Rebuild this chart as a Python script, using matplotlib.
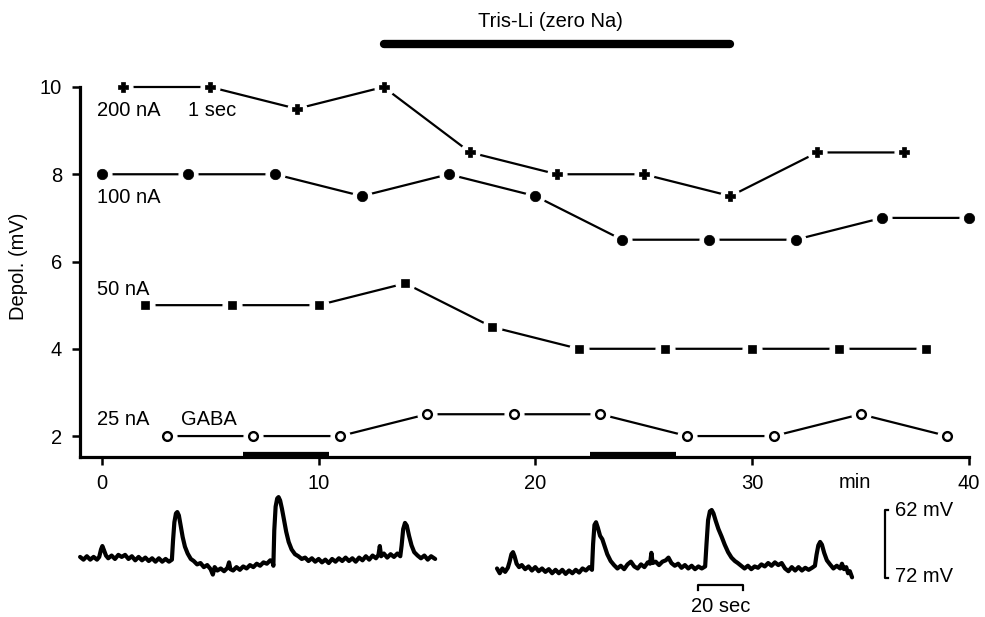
import matplotlib
matplotlib.use('Agg')
import matplotlib.pyplot as plt
import matplotlib.transforms as mtransforms

plt.rcParams['font.family'] = ['Liberation Sans', 'DejaVu Sans']

# depolarisation (mV) vs time (min) for four current strengths
t_200 = [1, 5, 9, 13, 17, 21, 25, 29, 33, 37]
d_200 = [10, 10, 9.5, 10, 8.5, 8, 8, 7.5, 8.5, 8.5]
t_100 = [0, 4, 8, 12, 16, 20, 24, 28, 32, 36, 40]
d_100 = [8, 8, 8, 7.5, 8, 7.5, 6.5, 6.5, 6.5, 7, 7]
t_50 = [2, 6, 10, 14, 18, 22, 26, 30, 34, 38]
d_50 = [5, 5, 5, 5.5, 4.5, 4, 4, 4, 4, 4]
t_25 = [3, 7, 11, 15, 19, 23, 27, 31, 35, 39]
d_25 = [2, 2, 2, 2.5, 2.5, 2.5, 2, 2, 2.5, 2]

tris_li = (13, 29)                          # min
gaba_periods = [(6.5, 10.5), (22.5, 26.5)]  # min

# membrane potential recordings (time s, potential mV)
trace1 = [
    (0, -68.9), (1.5, -69.3), (3, -68.8), (4.5, -69.3), (6, -68.9), (7.5, -69.3),
    (8.5, -68.9), (9.3, -67.8), (9.9, -67.3), (10.6, -67.9), (11.5, -68.7), (12.5, -69.1),
    (14, -68.7), (15.5, -69.2), (17, -68.6), (18.5, -68.9), (20, -68.6), (21.5, -69.2),
    (23, -68.8), (24.5, -69.4), (26, -68.9), (27.5, -69.4), (29, -69.0), (30.5, -69.5),
    (32, -69.1), (33.5, -69.6), (35, -69.1), (36.5, -69.6), (38, -69.2), (39.5, -69.6),
    (40.8, -69.3), (41.3, -66.5), (41.9, -63.8), (42.6, -62.5), (43.2, -62.3), (43.9, -62.8),
    (44.7, -64.3), (45.6, -66.0), (46.6, -67.4), (47.8, -68.4), (49.2, -69.2), (50.5, -69.5),
    (52, -70.0), (53.5, -69.8), (55, -70.4), (56.5, -70.1), (58, -70.7), (59, -71.5),
    (59.8, -70.4), (61, -70.9), (62.5, -70.6), (64, -71.0), (65.5, -70.5), (66.2, -69.7),
    (66.8, -70.7), (68, -70.9), (69.5, -70.4), (71, -70.8), (72.5, -70.3), (74, -70.6),
    (75.5, -70.1), (77, -70.4), (78.5, -69.9), (80, -70.2), (81.5, -69.7), (83, -69.9),
    (84.5, -69.4), (85.6, -69.7), (85.9, -70.2), (86.3, -65.0), (86.9, -61.5), (87.6, -60.3),
    (88.2, -60.1), (88.9, -60.6), (89.7, -61.8), (90.6, -63.4), (91.6, -65.2), (92.7, -66.7),
    (94, -67.8), (95.5, -68.5), (97, -68.8), (98.5, -69.2), (100, -69.0), (101.5, -69.5),
    (103, -69.1), (104.5, -69.6), (106, -69.2), (107.5, -69.7), (109, -69.3), (110.5, -69.8),
    (112, -69.2), (113.5, -69.6), (115, -69.1), (116.5, -69.5), (118, -69.0), (119.5, -69.5),
    (121, -69.1), (122.5, -69.6), (124, -69.0), (125.5, -69.4), (127, -68.8), (128.5, -69.3),
    (130, -68.7), (131.5, -69.1), (132.6, -68.6), (133.2, -67.3), (133.8, -68.8), (135, -68.4),
    (136.5, -69.0), (138, -68.5), (139.5, -68.9), (141, -68.4), (142.3, -68.8), (142.9, -67.2),
    (143.6, -64.8), (144.4, -63.9), (145.2, -64.3), (146.2, -65.8), (147.3, -67.2),
    (148.5, -68.2), (150, -68.7), (151.5, -69.1), (153, -68.7), (154.5, -69.3), (156, -68.8),
    (157.8, -69.2),
]
trace2 = [
    (0, -70.6), (1.2, -71.3), (2.4, -70.6), (3.6, -71.1), (4.8, -70.5), (5.6, -69.6),
    (6.4, -68.5), (7.1, -68.2), (7.8, -68.8), (8.7, -69.9), (9.8, -70.4), (11, -70.1),
    (12.5, -70.7), (14, -70.3), (15.5, -70.9), (17, -70.4), (18.5, -71.0), (20, -70.6),
    (21.5, -71.1), (23, -70.7), (24.5, -71.3), (26, -70.8), (27.5, -71.3), (29, -70.8),
    (30.5, -71.4), (32, -70.9), (33.5, -71.3), (35, -70.8), (36.5, -71.2), (38, -70.6),
    (39.5, -70.9), (41, -70.4), (42.2, -70.8), (42.7, -67.0), (43.3, -64.2), (44.0, -63.8),
    (44.8, -64.6), (45.8, -65.8), (46.8, -66.3), (47.8, -67.3), (49, -68.5), (50.5, -69.5),
    (52, -70.1), (53.5, -70.6), (55, -70.2), (56.5, -70.7), (58, -70.0), (59.5, -69.6),
    (61, -70.3), (62.5, -70.6), (64, -70.0), (65.5, -70.4), (67, -69.7), (68, -69.9),
    (68.6, -68.3), (69.2, -69.8), (70.5, -69.6), (72, -70.1), (73.5, -69.6), (75, -69.4),
    (76.2, -69.0), (77.5, -69.8), (79, -70.2), (80.5, -69.9), (82, -70.5), (83.5, -70.1),
    (85, -70.6), (86.5, -70.2), (88, -70.7), (89.5, -70.3), (91, -70.6), (92.5, -70.3),
    (93.1, -67.0), (93.8, -63.5), (94.6, -62.2), (95.4, -62.0), (96.2, -62.5), (97.2, -63.6),
    (98.4, -64.8), (99.8, -65.9), (101.2, -67.1), (102.7, -68.2), (104.2, -69.0),
    (105.7, -69.5), (107, -69.8), (108.5, -70.2), (110, -70.6), (111.5, -70.2), (113, -70.7),
    (114.5, -70.3), (116, -70.5), (117.5, -70.0), (119, -70.3), (120.5, -69.8), (122, -70.2),
    (123.5, -69.7), (125, -70.1), (126.5, -69.8), (128, -70.6), (129.5, -71.0), (131, -70.4),
    (132.5, -70.9), (134, -70.4), (135.5, -70.9), (137, -70.5), (138.5, -70.8), (140, -70.5),
    (141.3, -70.2), (142, -68.6), (142.8, -67.2), (143.6, -66.7), (144.4, -67.1),
    (145.4, -68.3), (146.6, -69.4), (148, -70.0), (149.5, -70.6), (151, -70.2), (152.5, -70.6),
    (153.3, -69.9), (154.2, -70.7), (155.2, -70.4), (156, -71.3), (156.8, -71.0), (157.8, -71.9),
]

fs = 14.5
fig = plt.figure(figsize=(9.85, 6.17), dpi=100)
ax = fig.add_axes([80 / 985, 160 / 617, 889 / 985, 370 / 617])

series = [(t_200, d_200, 'P', 7, 'k'), (t_100, d_100, 'o', 7.5, 'k'),
          (t_50, d_50, 's', 6.3, 'k'), (t_25, d_25, 'o', 6.3, 'white')]
for t, d, m, ms, fc in series:
    ax.plot(t, d, '-', color='k', lw=1.6, zorder=1, clip_on=False)
    ax.plot(t, d, 'o', ms=13.5, color='white', mec='white', zorder=2, clip_on=False)
    ax.plot(t, d, m, ms=ms, mfc=fc, mec='k', mew=1.7 if fc == 'white' else 0.5,
            zorder=3, clip_on=False)

ax.set_xlim(-1, 40)
ax.set_ylim(1.52, 10.0)
ax.set_xticks([0, 10, 20, 30, 40])
ax.set_yticks([2, 4, 6, 8, 10])
ax.tick_params(axis='both', direction='out', length=6, width=1.8, labelsize=fs)
ax.tick_params(axis='x', pad=6)
ax.tick_params(axis='y', pad=7)
for s in ['top', 'right']:
    ax.spines[s].set_visible(False)
for s in ['left', 'bottom']:
    ax.spines[s].set_linewidth(2.3)

ax.set_ylabel('Depol. (mV)', fontsize=fs)
ax.yaxis.set_label_coords(-0.058, 0.515)

trans = mtransforms.blended_transform_factory(ax.transData, ax.transAxes)
ax.text(34.75, -0.07, 'min', transform=trans, ha='center', va='center', fontsize=fs)
for a, b in gaba_periods:
    ax.plot([a, b], [0.006, 0.006], color='k', lw=4.5, solid_capstyle='butt',
            transform=trans, clip_on=False)

ax.plot(tris_li, [10.99, 10.99], color='k', lw=6, solid_capstyle='round', clip_on=False)
ax.text(20.7, 11.5, 'Tris-Li (zero Na)', ha='center', va='center', fontsize=fs)

ax.text(-0.23, 9.47, '200 nA', ha='left', va='center', fontsize=fs)
ax.text(4.0, 9.47, '1 sec', ha='left', va='center', fontsize=fs)
ax.text(-0.23, 7.47, '100 nA', ha='left', va='center', fontsize=fs)
ax.text(-0.23, 5.37, '50 nA', ha='left', va='center', fontsize=fs)
ax.text(-0.23, 2.39, '25 nA', ha='left', va='center', fontsize=fs)
ax.text(3.64, 2.39, 'GABA', ha='left', va='center', fontsize=fs)

# recordings underneath, 2.25 px per s and 6.8 px per mV
axr = fig.add_axes([0, 0, 1, 147 / 617])
axr.set_xlim(0, 985 / 2.25)
axr.set_ylim(-62 - 107 / 6.8, -62 + 40 / 6.8)
axr.axis('off')
for start, tr in [(35.6, trace1), (220.9, trace2)]:
    axr.plot([start + p[0] for p in tr], [p[1] for p in tr], color='k', lw=3,
             solid_joinstyle='round', solid_capstyle='round')

# calibration bars
axr.plot([394.6, 393.3, 393.3, 394.6], [-62, -62, -72, -72], color='k', lw=1.6)
axr.text(397.8, -62, '62 mV', ha='left', va='center', fontsize=fs)
axr.text(397.8, -71.8, '72 mV', ha='left', va='center', fontsize=fs)
axr.plot([310.2, 310.2, 330.2, 330.2], [-73.7, -73.0, -73.0, -73.7], color='k', lw=1.6)
axr.text(320.2, -76.2, '20 sec', ha='center', va='center', fontsize=fs)

fig.savefig('out.png', dpi=100)
